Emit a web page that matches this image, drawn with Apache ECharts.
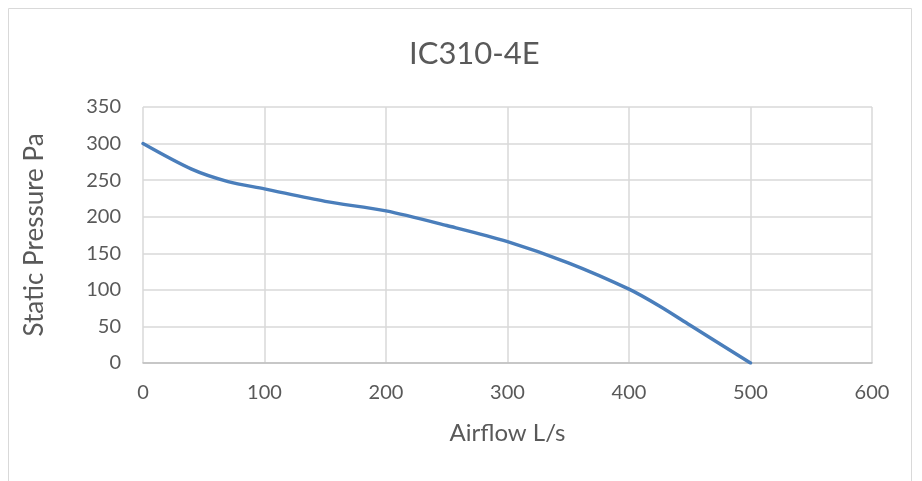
<!DOCTYPE html>
<html>
<head>
<meta charset="utf-8">
<script src="https://cdn.jsdelivr.net/npm/echarts@6/dist/echarts.min.js"></script>
<style>
  html, body { margin: 0; padding: 0; background: #fff; }
  #chart { width: 922px; height: 481px; }
</style>
</head>
<body>
<div id="chart"></div>
<script>
// fan curve IC310-4E
const chartTitle = 'IC310-4E'
const airflow = [0, 40, 70, 100, 150, 200, 250, 300, 350, 400, 425, 450, 500]
const pressure = [300, 265, 248, 238, 221, 208, 188, 166, 137, 101, 78, 52, 0]
const xName = 'Airflow L/s'
const yName = 'Static Pressure Pa'

const textColor = '#595959'
const gridColor = '#d9d9d9'
const fontFamily = 'Lato, "Open Sans", sans-serif'

const points = airflow.map((x, i) => [x, pressure[i]])

const mychart = echarts.init(document.getElementById('chart'))
mychart.setOption({
  animation: false,
  textStyle: { fontFamily: fontFamily },
  title: {
    text: chartTitle,
    left: 404,
    top: 33,
    textStyle: { color: textColor, fontSize: 31, fontWeight: 'normal', fontFamily: fontFamily },
  },
  graphic: [
    {
      type: 'rect',
      shape: { x: 8.5, y: 8.5, width: 903, height: 490 },
      style: { fill: 'none', stroke: gridColor, lineWidth: 1 },
      silent: true,
    },
  ],
  grid: { left: 143, right: 50, top: 107, bottom: 118 },
  xAxis: {
    type: 'value',
    min: 0,
    max: 600,
    interval: 100,
    name: xName,
    nameLocation: 'middle',
    nameGap: 58,
    nameTextStyle: { color: textColor, fontSize: 24 },
    axisLine: { show: true, lineStyle: { color: '#bfbfbf', width: 1.5 } },
    axisTick: { show: false },
    axisLabel: { color: textColor, fontSize: 20, margin: 20 },
    splitLine: { show: true, lineStyle: { color: gridColor, width: 1.5 } },
  },
  yAxis: {
    type: 'value',
    min: 0,
    max: 350,
    interval: 50,
    name: yName,
    nameLocation: 'middle',
    nameGap: 95,
    nameTextStyle: { color: textColor, fontSize: 26 },
    axisLine: { show: false },
    axisTick: { show: false },
    axisLabel: { color: textColor, fontSize: 20, margin: 22 },
    splitLine: { show: true, lineStyle: { color: gridColor, width: 1.5 } },
  },
  series: [
    {
      type: 'line',
      data: points,
      smooth: 0.3,
      symbol: 'none',
      lineStyle: { color: '#4a7ebb', width: 3.4, cap: 'round' },
    },
  ],
})
</script>
</body>
</html>
